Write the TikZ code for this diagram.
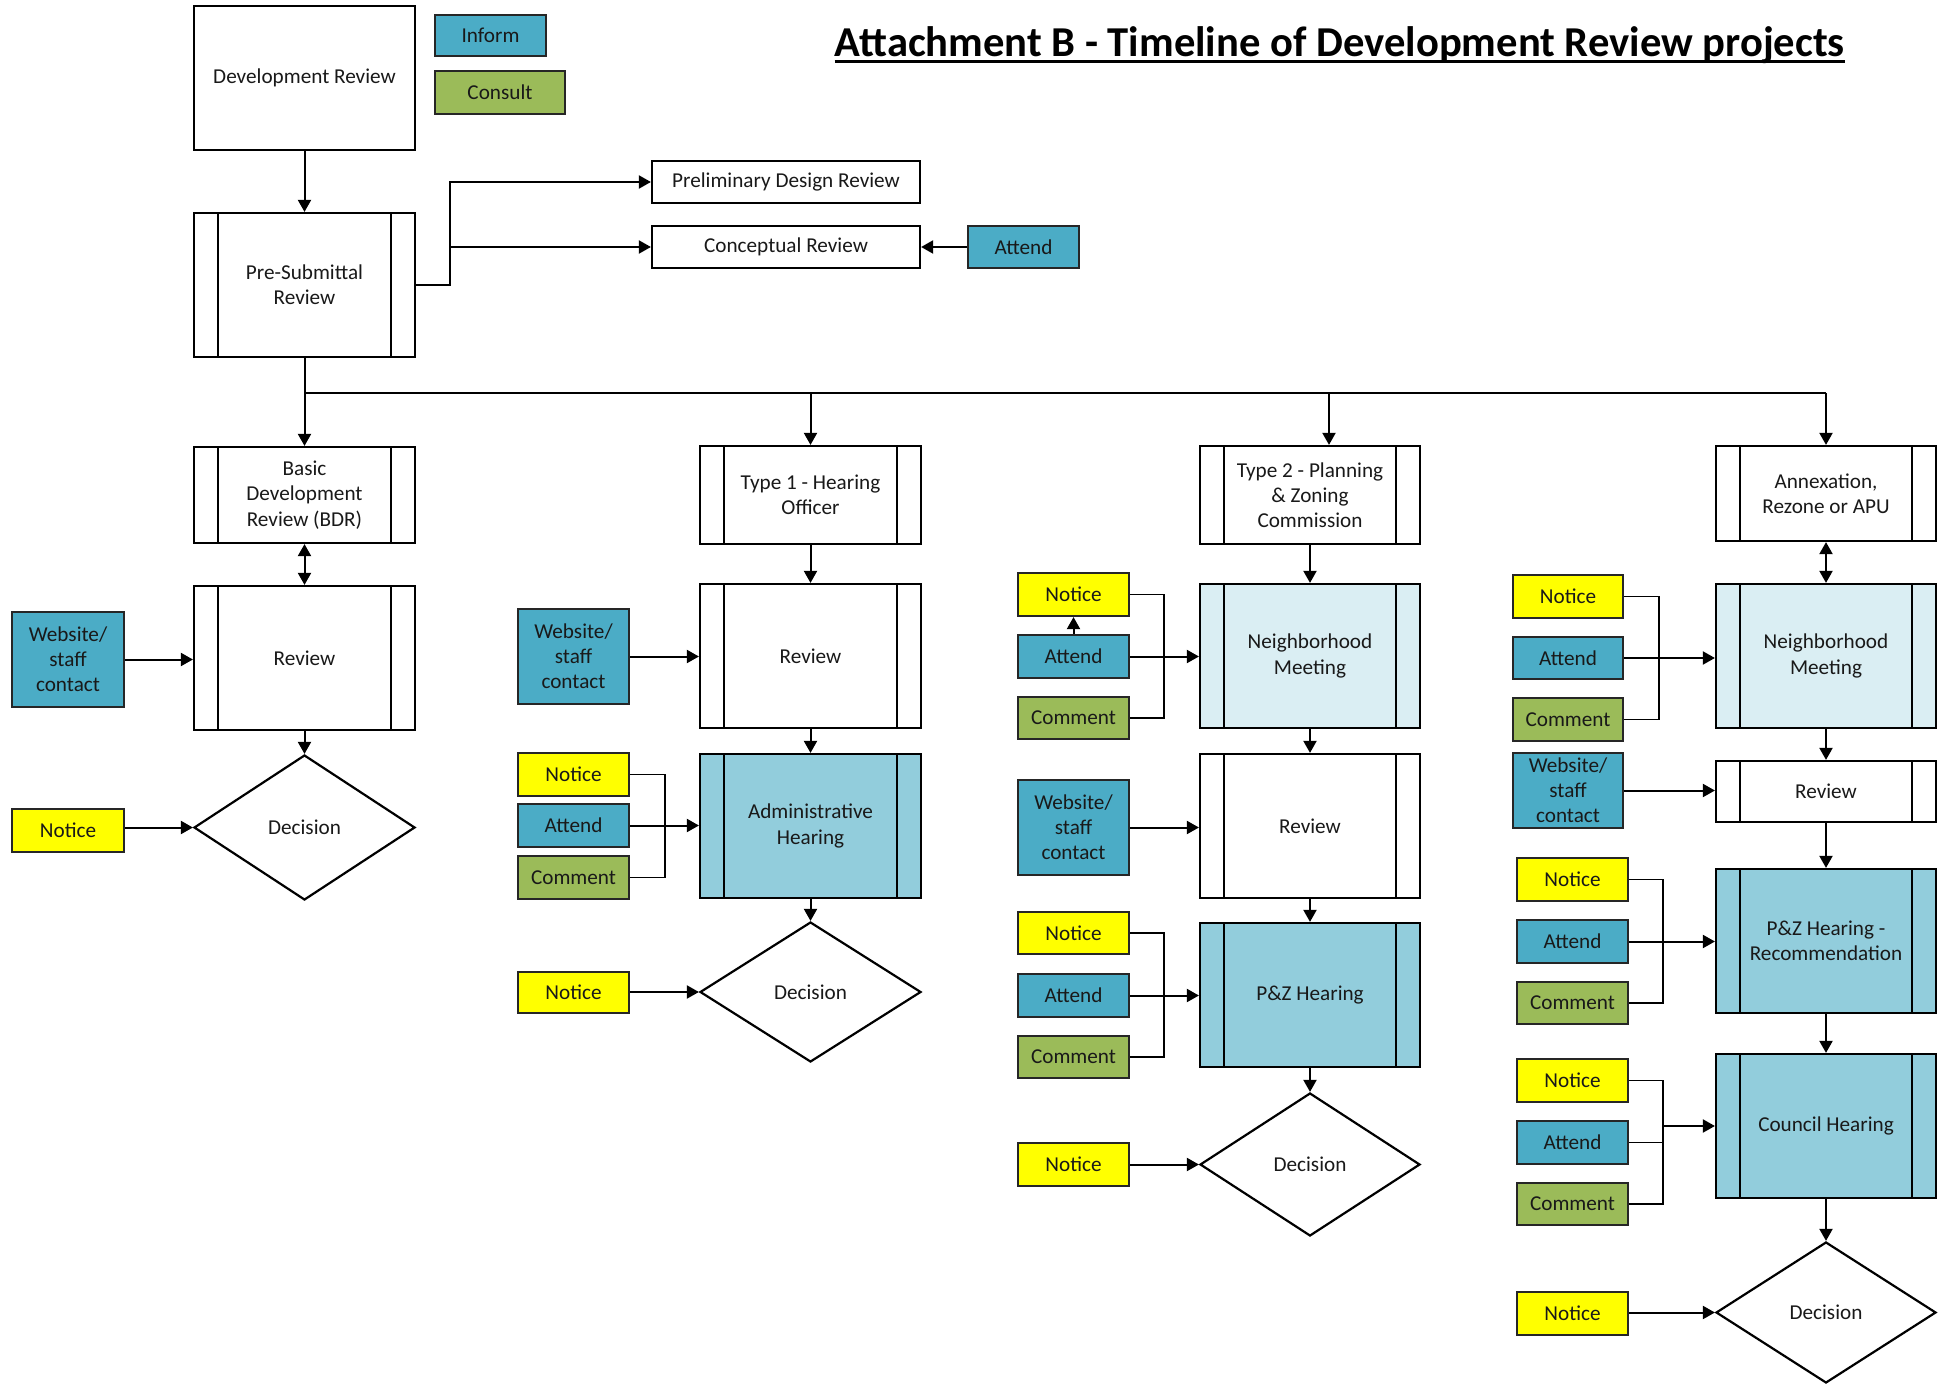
\documentclass[tikz,border=0pt]{standalone}
\usepackage{fontspec}
\setmainfont{Carlito}
\usetikzlibrary{arrows.meta,shapes.geometric}

\definecolor{informblue}{RGB}{75,172,198}
\definecolor{consultgreen}{RGB}{155,187,89}
\definecolor{noticeyellow}{RGB}{255,255,0}
\definecolor{hearingblue}{RGB}{146,205,220}
\definecolor{meetingblue}{RGB}{218,238,243}

\begin{document}
\begin{tikzpicture}[x=0.5pt,y=-0.5pt,
  every node/.style={font=\fontsize{10.6}{12.6}\selectfont, align=center, inner sep=0pt, text=black!90},
  sz/.style 2 args={minimum width=#1*0.5pt, minimum height=#2*0.5pt},
  box/.style={draw=black, line width=1.1pt, fill=white},
  sub/.style={box, path picture={
      \draw[line width=0.9pt]
        ([xshift=12pt]path picture bounding box.north west) -- ([xshift=12pt]path picture bounding box.south west)
        ([xshift=-12pt]path picture bounding box.north east) -- ([xshift=-12pt]path picture bounding box.south east);}},
  meeting/.style={sub, fill=meetingblue},
  hearing/.style={sub, fill=hearingblue},
  decision/.style={draw=black, line width=1.1pt, fill=white, diamond},
  small/.style={draw=black!85, line width=1.1pt},
  inform/.style={small, fill=informblue},
  consult/.style={small, fill=consultgreen},
  notice/.style={small, fill=noticeyellow},
  arr/.style={line width=1pt, -{Triangle[length=6pt,width=6.5pt]}},
  dbl/.style={line width=1pt, {Triangle[length=6pt,width=6.5pt]}-{Triangle[length=6pt,width=6.5pt]}},
  ln/.style={line width=0.8pt},
]
\useasboundingbox (0,0) rectangle (1949,1385);

% ---------- title and legend ----------
\node[font=\fontsize{21.3}{25}\selectfont\bfseries, text=black, anchor=base] (title) at (1340,57)
  {Attachment B - Timeline of Development Review projects};
\draw[line width=1.6pt] ([yshift=-2.4pt]title.base west) -- ([yshift=-2.4pt]title.base east);
\node[inform, sz={111}{41}] (inform) at (490.5,35.5) {Inform};
\node[consult, sz={130}{43}] (consult) at (500,92.5) {Consult};

% ---------- top of the process ----------
\node[box, sz={221}{144}] (devrev) at (304.5,78) {Development Review};
\node[sub, sz={221}{144}] (presub) at (304.5,285) {Pre-Submittal\\Review};
\node[box, sz={268}{42}] (pdr) at (786,182) {Preliminary Design Review};
\node[box, sz={268}{42}] (concept) at (786,247) {Conceptual Review};
\node[inform, sz={111}{42}] (attend0) at (1023.5,247) {Attend};

% ---------- column 1: basic development review ----------
\node[sub, sz={221}{96}] (bdr) at (304.5,495) {Basic\\Development\\Review (BDR)};
\node[sub, sz={221}{144}] (rev1) at (304.5,658) {Review};
\node[decision, sz={221}{145}] (dec1) at (304.5,827.5) {Decision};
\node[inform, sz={112}{95}] (web1) at (68,659.5) {Website/\\staff\\contact};
\node[notice, sz={112}{43}] (notice1) at (68,830.5) {Notice};

% ---------- column 2: type 1 ----------
\node[sub, sz={221}{98}] (type1) at (810.5,495) {Type 1 - Hearing\\Officer};
\node[sub, sz={221}{144}] (rev2) at (810.5,656) {Review};
\node[hearing, sz={221}{144}] (admin) at (810.5,826) {Administrative\\Hearing};
\node[decision, sz={221}{140}] (dec2) at (810.5,992) {Decision};
\node[inform, sz={111}{95}] (web2) at (573.5,656.5) {Website/\\staff\\contact};
\node[notice, sz={111}{43}] (notice2a) at (573.5,774.5) {Notice};
\node[inform, sz={111}{43}] (attend2) at (573.5,825.5) {Attend};
\node[consult, sz={111}{43}] (comment2) at (573.5,877.5) {Comment};
\node[notice, sz={111}{41}] (notice2b) at (573.5,992.5) {Notice};

% ---------- column 3: type 2 ----------
\node[sub, sz={220}{98}] (type2) at (1310,495) {Type 2 - Planning\\\& Zoning\\Commission};
\node[meeting, sz={220}{144}] (nm3) at (1310,656) {Neighborhood\\Meeting};
\node[sub, sz={220}{144}] (rev3) at (1310,826) {Review};
\node[hearing, sz={220}{144}] (pz3) at (1310,995) {P\&Z Hearing};
\node[decision, sz={220}{143}] (dec3) at (1310,1164.5) {Decision};
\node[notice, sz={111}{43}] (notice3a) at (1073.5,594.5) {Notice};
\node[inform, sz={111}{43}] (attend3a) at (1073.5,656.5) {Attend};
\node[consult, sz={111}{42}] (comment3a) at (1073.5,718) {Comment};
\node[inform, sz={111}{95}] (web3) at (1073.5,827.5) {Website/\\staff\\contact};
\node[notice, sz={111}{42}] (notice3b) at (1073.5,933) {Notice};
\node[inform, sz={111}{43}] (attend3b) at (1073.5,995.5) {Attend};
\node[consult, sz={111}{42}] (comment3b) at (1073.5,1057) {Comment};
\node[notice, sz={111}{43}] (notice3c) at (1073.5,1164.5) {Notice};

% ---------- column 4: annexation / rezone ----------
\node[sub, sz={220}{95}] (annex) at (1826,493.5) {Annexation,\\Rezone or APU};
\node[meeting, sz={220}{144}] (nm4) at (1826,656) {Neighborhood\\Meeting};
\node[sub, sz={220}{61}] (rev4) at (1826,791.5) {Review};
\node[hearing, sz={220}{144}] (pzr) at (1826,941) {P\&Z Hearing -\\Recommendation};
\node[hearing, sz={220}{144}] (council) at (1826,1126) {Council Hearing};
\node[decision, sz={220}{141}] (dec4) at (1826,1312.5) {Decision};
\node[notice, sz={110}{43}] (notice4a) at (1568,596.5) {Notice};
\node[inform, sz={110}{42}] (attend4a) at (1568,658) {Attend};
\node[consult, sz={110}{43}] (comment4a) at (1568,719.5) {Comment};
\node[inform, sz={110}{75}] (web4) at (1568,790.5) {Website/\\staff\\contact};
\node[notice, sz={111}{43}] (notice4b) at (1572.5,879.5) {Notice};
\node[inform, sz={111}{43}] (attend4b) at (1572.5,941.5) {Attend};
\node[consult, sz={111}{42}] (comment4b) at (1572.5,1003) {Comment};
\node[notice, sz={111}{43}] (notice4c) at (1572.5,1080.5) {Notice};
\node[inform, sz={111}{43}] (attend4c) at (1572.5,1142.5) {Attend};
\node[consult, sz={111}{42}] (comment4c) at (1572.5,1204) {Comment};
\node[notice, sz={111}{43}] (notice4d) at (1572.5,1313.5) {Notice};

% ---------- connectors: top ----------
\draw[arr] (devrev) -- (presub);
\coordinate (j1) at (450,247);
\draw[arr] (presub.east) -| (j1) |- (pdr.west);
\draw[arr] (j1) -- (concept.west);
\draw[arr] (attend0) -- (concept);

% distribution bus
\coordinate (busL) at (304.5,393);
\coordinate (bus2) at (810.5,393);
\coordinate (bus3) at (1329,393);
\coordinate (busR) at (1826,393);
\draw[arr] (presub.south) -- (bdr.north);
\draw[line width=1pt] (busL) -- (busR);
\draw[arr] (bus2) -- (type1.north);
\draw[arr] (bus3) -- (bus3 |- type2.north);
\draw[arr] (busR) -- (annex.north);

% ---------- connectors: column 1 ----------
\draw[dbl] (bdr.south) -- (rev1.north);
\draw[arr] (web1.east) -- (web1.east -| rev1.west);
\draw[arr] (rev1) -- (dec1);
\draw[arr] (notice1.east |- dec1.west) -- (dec1.west);

% ---------- connectors: column 2 ----------
\draw[arr] (type1) -- (rev2);
\draw[arr] (web2.east) -- (web2.east -| rev2.west);
\draw[arr] (rev2) -- (admin);
\coordinate (b2) at (665,826);
\draw[ln] (notice2a.east) -| (b2) |- (comment2.east);
\draw[arr] (attend2.east) -- (attend2.east -| admin.west);
\draw[arr] (admin) -- (dec2);
\draw[arr] (notice2b.east |- dec2.west) -- (dec2.west);

% ---------- connectors: column 3 ----------
\draw[arr] (type2) -- (nm3);
\draw[arr] (attend3a) -- (notice3a);
\coordinate (b3a) at (1164,656.5);
\draw[ln] (notice3a.east) -| (b3a) |- (comment3a.east);
\draw[arr] (attend3a.east) -- (attend3a.east -| nm3.west);
\draw[arr] (nm3) -- (rev3);
\draw[arr] (web3.east) -- (web3.east -| rev3.west);
\draw[arr] (rev3) -- (pz3);
\coordinate (b3b) at (1164,995.5);
\draw[ln] (notice3b.east) -| (b3b) |- (comment3b.east);
\draw[arr] (attend3b.east) -- (attend3b.east -| pz3.west);
\draw[arr] (pz3) -- (dec3);
\draw[arr] (notice3c.east |- dec3.west) -- (dec3.west);

% ---------- connectors: column 4 ----------
\draw[dbl] (annex.south) -- (nm4.north);
\coordinate (b4a) at (1659,658);
\draw[ln] (notice4a.east) -| (b4a) |- (comment4a.east);
\draw[arr] (attend4a.east) -- (attend4a.east -| nm4.west);
\draw[arr] (nm4) -- (rev4);
\draw[arr] (web4.east) -- (web4.east -| rev4.west);
\draw[arr] (rev4) -- (pzr);
\coordinate (b4b) at (1663,941.5);
\draw[ln] (notice4b.east) -| (b4b) |- (comment4b.east);
\draw[arr] (attend4b.east) -- (attend4b.east -| pzr.west);
\draw[arr] (pzr) -- (council);
\coordinate (b4c) at (1663,1126);
\draw[ln] (notice4c.east) -| (b4c) |- (comment4c.east);
\draw[ln] (attend4c.east) -- (attend4c.east -| b4c);
\draw[arr] (b4c) -- (b4c -| council.west);
\draw[arr] (council) -- (dec4);
\draw[arr] (notice4d.east |- dec4.west) -- (dec4.west);

\end{tikzpicture}
\end{document}
